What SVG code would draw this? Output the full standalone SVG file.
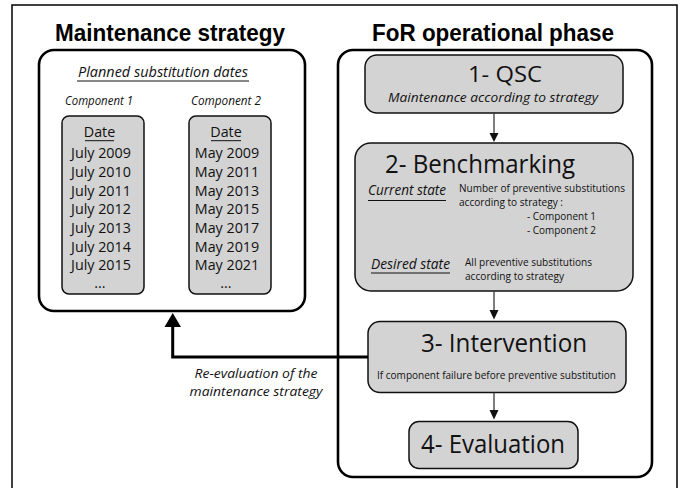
<svg xmlns="http://www.w3.org/2000/svg" width="684" height="488" viewBox="0 0 684 488">
<style>
.title{font-family:"Liberation Sans",Arial,sans-serif;font-weight:bold;font-size:24px;fill:#000}
.t{font-family:"Open Sans","Noto Sans",sans-serif;fill:#111}
.it{font-style:italic}
.big{font-size:26px}
.date{font-size:14.3px;text-anchor:middle}
.small{font-size:11.5px}
.frame{fill:none;stroke:#000;stroke-width:2.6}
.box{fill:#d3d3d3;stroke:#111;stroke-width:1.5}
.ul{stroke:#111;stroke-width:1}
.conn{stroke:#3a3a3a;stroke-width:1.3;fill:none}
.head{fill:#111}
</style>
<rect width="684" height="488" fill="#fff"/>
<rect x="12" y="5" width="665" height="500" fill="none" stroke="#000" stroke-width="1.5"/>

<text class="title" x="55" y="41" textLength="230" lengthAdjust="spacingAndGlyphs">Maintenance strategy</text>
<text class="title" x="372" y="41" textLength="242" lengthAdjust="spacingAndGlyphs">FoR operational phase</text>

<g id="maintenance-strategy">
<rect class="frame" x="39" y="50" width="266" height="261" rx="15"/>
<text class="t it" x="78" y="77" font-size="14" textLength="170" lengthAdjust="spacingAndGlyphs">Planned substitution dates</text>
<line class="ul" x1="77" y1="81" x2="249" y2="81"/>
<text class="t it" x="65" y="105" font-size="13" textLength="68" lengthAdjust="spacingAndGlyphs">Component 1</text>
<text class="t it" x="191" y="105" font-size="13" textLength="70" lengthAdjust="spacingAndGlyphs">Component 2</text>
</g>

<g id="component-1">
<rect class="box" x="62" y="116" width="82" height="178" rx="7"/>
<text class="t date" x="99.5" y="137">Date</text>
<line class="ul" x1="85" y1="140.7" x2="114" y2="140.7"/>
<text class="t date" x="101" y="158.3">July 2009</text>
<text class="t date" x="101" y="177">July 2010</text>
<text class="t date" x="101" y="195.7">July 2011</text>
<text class="t date" x="101" y="214.3">July 2012</text>
<text class="t date" x="101" y="233">July 2013</text>
<text class="t date" x="101" y="251.5">July 2014</text>
<text class="t date" x="101" y="270">July 2015</text>
<text class="t date" x="100" y="288">...</text>
</g>

<g id="component-2">
<rect class="box" x="189" y="116" width="82" height="178" rx="7"/>
<text class="t date" x="226" y="137">Date</text>
<line class="ul" x1="211" y1="140.7" x2="241" y2="140.7"/>
<text class="t date" x="227" y="158.3">May 2009</text>
<text class="t date" x="227" y="177">May 2011</text>
<text class="t date" x="227" y="195.7">May 2013</text>
<text class="t date" x="227" y="214.3">May 2015</text>
<text class="t date" x="227" y="233">May 2017</text>
<text class="t date" x="227" y="251.5">May 2019</text>
<text class="t date" x="227" y="270">May 2021</text>
<text class="t date" x="226" y="288">...</text>
</g>

<g id="for-operational-phase">
<rect class="frame" x="338" y="50" width="314" height="427" rx="15"/>
</g>

<g id="qsc">
<rect class="box" x="365" y="55" width="258" height="58" rx="12"/>
<text class="t" x="468" y="82" font-size="21" textLength="74" lengthAdjust="spacingAndGlyphs">1- QSC</text>
<text class="t it" x="388" y="102" font-size="13" textLength="210" lengthAdjust="spacingAndGlyphs">Maintenance according to strategy</text>
</g>

<g id="benchmarking">
<rect class="box" x="355" y="143" width="278" height="148" rx="16"/>
<text class="t big" x="385" y="173" textLength="190" lengthAdjust="spacingAndGlyphs">2- Benchmarking</text>
<text class="t it" x="368" y="195" font-size="15" textLength="78" lengthAdjust="spacingAndGlyphs">Current state</text>
<line class="ul" x1="368" y1="200.5" x2="446" y2="200.5"/>
<text class="t small" x="459" y="191.5" textLength="166" lengthAdjust="spacingAndGlyphs">Number of preventive substitutions</text>
<text class="t small" x="459" y="205.5" textLength="104" lengthAdjust="spacingAndGlyphs">according to strategy :</text>
<text class="t small" x="527" y="220" textLength="69" lengthAdjust="spacingAndGlyphs">- Component 1</text>
<text class="t small" x="527" y="234" textLength="69" lengthAdjust="spacingAndGlyphs">- Component 2</text>
<text class="t it" x="371" y="269" font-size="15" textLength="79" lengthAdjust="spacingAndGlyphs">Desired state</text>
<line class="ul" x1="371" y1="273" x2="450" y2="273"/>
<text class="t small" x="465" y="266" textLength="127" lengthAdjust="spacingAndGlyphs">All preventive substitutions</text>
<text class="t small" x="465" y="279.5" textLength="99" lengthAdjust="spacingAndGlyphs">according to strategy</text>
</g>

<g id="intervention">
<rect class="box" x="368" y="321.5" width="258" height="71" rx="12"/>
<text class="t big" x="421" y="352" textLength="166" lengthAdjust="spacingAndGlyphs">3- Intervention</text>
<text class="t" x="377" y="378.5" font-size="11" textLength="239" lengthAdjust="spacingAndGlyphs">If component failure before preventive substitution</text>
</g>

<g id="evaluation">
<rect class="box" x="409" y="421.5" width="169" height="47" rx="10"/>
<text class="t big" x="421" y="453" textLength="144" lengthAdjust="spacingAndGlyphs">4- Evaluation</text>
</g>

<g id="connectors">
<line class="conn" x1="494" y1="113" x2="494" y2="134"/>
<polygon class="head" points="489.5,133 498.5,133 494,142"/>
<line class="conn" x1="494" y1="291" x2="494" y2="311"/>
<polygon class="head" points="489.5,310 498.5,310 494,319.5"/>
<line class="conn" x1="494" y1="392.5" x2="494" y2="411"/>
<polygon class="head" points="489.5,410 498.5,410 494,419.5"/>
<polyline points="368,357 172.7,357 172.7,326" fill="none" stroke="#000" stroke-width="3"/>
<polygon points="164.5,327 181,327 172.7,313" fill="#000"/>
<text class="t it" x="256" y="377.5" font-size="13" text-anchor="middle" textLength="123" lengthAdjust="spacingAndGlyphs">Re-evaluation of the</text>
<text class="t it" x="256" y="396" font-size="13" text-anchor="middle" textLength="133" lengthAdjust="spacingAndGlyphs">maintenance strategy</text>
</g>
</svg>
